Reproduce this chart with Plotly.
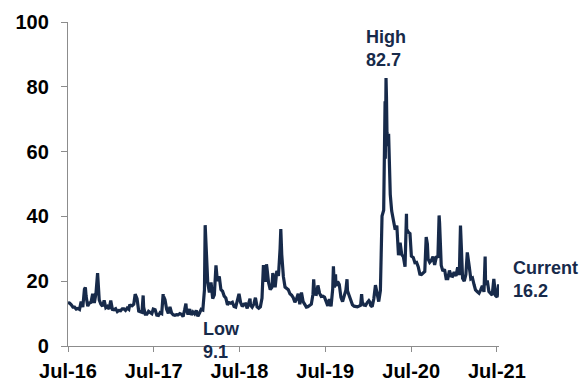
import plotly.graph_objects as go

dates = [
"2016-07-01","2016-07-08","2016-07-15","2016-07-22","2016-07-29","2016-08-05","2016-08-12","2016-08-19","2016-08-26",
"2016-09-02","2016-09-09","2016-09-13","2016-09-16","2016-09-23","2016-09-30","2016-10-07","2016-10-14","2016-10-21",
"2016-10-28","2016-11-04","2016-11-11","2016-11-18","2016-11-25","2016-12-02","2016-12-09","2016-12-16","2016-12-23",
"2016-12-30",
"2017-01-06","2017-01-13","2017-01-20","2017-01-27","2017-02-03","2017-02-10","2017-02-17","2017-02-24","2017-03-03",
"2017-03-10","2017-03-17","2017-03-21","2017-03-24","2017-03-31","2017-04-07","2017-04-13","2017-04-21","2017-04-28",
"2017-05-05","2017-05-12","2017-05-17","2017-05-19","2017-05-26","2017-06-02","2017-06-09","2017-06-16","2017-06-23",
"2017-06-29","2017-07-07","2017-07-14","2017-07-21","2017-07-28","2017-08-04","2017-08-10","2017-08-11","2017-08-18",
"2017-08-25","2017-09-01","2017-09-08","2017-09-15","2017-09-22","2017-09-29","2017-10-06","2017-10-13","2017-10-20",
"2017-10-27","2017-11-03","2017-11-10","2017-11-15","2017-11-17","2017-11-24","2017-12-01","2017-12-08","2017-12-15",
"2017-12-22","2017-12-29",
"2018-01-05","2018-01-12","2018-01-19","2018-01-26","2018-02-02","2018-02-05","2018-02-09","2018-02-16","2018-02-23",
"2018-03-02","2018-03-09","2018-03-16","2018-03-23","2018-03-29","2018-04-06","2018-04-13","2018-04-20","2018-04-27",
"2018-05-04","2018-05-11","2018-05-18","2018-05-25","2018-06-01","2018-06-08","2018-06-15","2018-06-22","2018-06-29",
"2018-07-06","2018-07-13","2018-07-20","2018-07-27","2018-08-03","2018-08-10","2018-08-15","2018-08-17","2018-08-24",
"2018-08-31","2018-09-07","2018-09-14","2018-09-21","2018-09-28","2018-10-05","2018-10-11","2018-10-12","2018-10-19",
"2018-10-24","2018-10-26","2018-11-02","2018-11-09","2018-11-16","2018-11-20","2018-11-23","2018-11-30","2018-12-07",
"2018-12-14","2018-12-21","2018-12-24","2018-12-28",
"2019-01-04","2019-01-11","2019-01-18","2019-01-25","2019-02-01","2019-02-08","2019-02-15","2019-02-22","2019-03-01",
"2019-03-08","2019-03-15","2019-03-22","2019-03-29","2019-04-05","2019-04-12","2019-04-18","2019-04-26","2019-05-03",
"2019-05-10","2019-05-13","2019-05-17","2019-05-24","2019-05-31","2019-06-07","2019-06-14","2019-06-21","2019-06-28",
"2019-07-05","2019-07-12","2019-07-19","2019-07-26","2019-08-02","2019-08-05","2019-08-09","2019-08-14","2019-08-16",
"2019-08-23","2019-08-30","2019-09-06","2019-09-13","2019-09-20","2019-09-27","2019-10-02","2019-10-04","2019-10-11",
"2019-10-18","2019-10-25","2019-11-01","2019-11-08","2019-11-15","2019-11-22","2019-11-29","2019-12-03","2019-12-06",
"2019-12-13","2019-12-20","2019-12-27",
"2020-01-03","2020-01-08","2020-01-10","2020-01-17","2020-01-24","2020-01-31","2020-02-07","2020-02-14","2020-02-21",
"2020-02-24","2020-02-27","2020-02-28","2020-03-06","2020-03-09","2020-03-12","2020-03-13","2020-03-16","2020-03-18",
"2020-03-20","2020-03-24","2020-03-27","2020-03-31","2020-04-03","2020-04-09","2020-04-17","2020-04-24","2020-05-01",
"2020-05-08","2020-05-15","2020-05-22","2020-05-29","2020-06-05","2020-06-11","2020-06-12","2020-06-19","2020-06-26",
"2020-07-02","2020-07-10","2020-07-17","2020-07-24","2020-07-31","2020-08-07","2020-08-14","2020-08-21","2020-08-28",
"2020-09-03","2020-09-08","2020-09-11","2020-09-18","2020-09-25","2020-10-02","2020-10-09","2020-10-16","2020-10-23",
"2020-10-28","2020-10-30","2020-11-06","2020-11-13","2020-11-20","2020-11-27","2020-12-04","2020-12-11","2020-12-18",
"2020-12-24","2020-12-31",
"2021-01-08","2021-01-15","2021-01-22","2021-01-27","2021-01-29","2021-02-05","2021-02-12","2021-02-19","2021-02-25",
"2021-02-26","2021-03-05","2021-03-12","2021-03-19","2021-03-26","2021-04-01","2021-04-09","2021-04-16","2021-04-23",
"2021-04-30","2021-05-07","2021-05-12","2021-05-14","2021-05-21","2021-05-28","2021-06-04","2021-06-11","2021-06-18",
"2021-06-25","2021-07-02","2021-07-08","2021-07-09",
]

values = [
13.4,13.2,12.7,12.0,12.0,11.4,11.6,11.3,13.7,
12.0,17.5,18.1,15.4,12.3,13.3,13.5,16.1,13.3,
16.2,22.5,14.2,12.9,12.3,14.1,11.8,12.2,11.4,
14.0,
11.3,11.2,11.5,10.6,11.0,10.9,11.5,11.5,11.0,
11.7,11.3,12.8,12.5,12.4,12.9,16.0,14.6,10.8,
10.6,10.4,15.6,12.0,9.8,9.8,10.7,10.4,10.0,
11.4,11.2,9.5,9.4,10.3,10.0,16.0,15.5,14.3,
11.3,10.1,12.1,10.2,9.6,9.5,9.7,9.6,10.0,
9.8,9.1,11.3,13.1,11.4,9.7,11.4,9.6,10.5,
9.9,11.0,
9.2,10.2,11.3,11.1,17.3,37.3,29.1,19.5,16.5,
19.6,14.6,15.8,24.9,20.0,21.5,17.4,16.9,15.4,
14.8,12.7,13.4,13.2,13.5,12.2,12.0,13.8,16.1,
13.4,12.2,12.9,13.0,11.6,13.2,14.6,12.6,12.0,
12.9,14.9,12.1,11.7,12.1,14.8,25.0,21.3,19.9,
25.2,24.2,19.5,17.4,18.1,22.5,21.5,18.1,23.2,
21.6,30.1,36.1,28.3,
21.4,18.2,17.8,17.4,16.1,15.7,14.9,13.5,14.6,
16.1,12.9,16.5,13.7,12.8,12.0,12.1,12.7,12.9,
16.0,20.6,16.0,15.9,18.7,16.3,15.3,15.4,15.1,
13.3,12.4,14.5,12.2,17.6,24.6,18.0,22.1,18.5,
19.9,19.0,15.0,13.7,15.3,17.2,20.6,17.0,15.6,
14.3,12.7,12.3,12.1,12.1,12.3,12.6,16.0,13.6,
12.6,12.5,13.4,
14.0,13.5,12.6,12.1,14.6,18.8,15.5,13.7,17.1,
25.0,39.2,40.1,41.9,54.5,75.5,57.8,82.7,76.5,
66.0,61.7,65.5,53.5,46.8,41.7,38.2,35.9,37.2,
28.0,31.9,28.2,27.5,24.5,40.8,36.1,35.1,34.7,
27.7,27.3,25.7,25.8,24.5,22.2,22.1,22.5,23.0,
33.6,31.5,26.9,25.8,26.4,27.6,25.0,27.4,27.6,
40.3,38.0,24.9,23.1,23.7,20.8,20.8,23.3,21.6,
21.5,22.8,
21.6,24.3,21.9,37.2,33.1,20.9,20.0,22.1,28.9,
28.0,24.7,20.7,21.0,18.9,17.3,16.7,16.3,17.3,
18.6,16.7,27.6,18.8,20.2,16.8,16.4,15.7,20.7,
15.6,15.1,19.0,16.2,
]

tick_dates = ["2016-07-01","2017-07-01","2018-07-01","2019-07-01","2020-07-01","2021-07-01"]
tick_labels = ["Jul-16","Jul-17","Jul-18","Jul-19","Jul-20","Jul-21"]

NAVY = "#172a4a"
tickfont = dict(family="Liberation Sans, Arial, sans-serif", size=20, color="#000000", weight="bold")
annfont = dict(family="Liberation Sans, Arial, sans-serif", size=18, color=NAVY, weight="bold")

fig = go.Figure()
fig.add_trace(go.Scatter(x=dates, y=values, mode="lines",
                         line=dict(color=NAVY, width=3.2), hoverinfo="skip"))

fig.update_layout(
    width=579, height=382,
    margin=dict(l=60, r=88, t=14, b=44, autoexpand=False),
    paper_bgcolor="white", plot_bgcolor="white",
    showlegend=False,
    xaxis=dict(type="date", range=["2016-07-01", "2021-07-10"], automargin=False,
               tickvals=tick_dates, ticktext=tick_labels,
               showgrid=False, zeroline=False, showline=True,
               linecolor="#8c8c8c", linewidth=1.3,
               ticks="outside", ticklen=5, tickcolor="#8c8c8c", tickwidth=1.3,
               tickfont=tickfont, ticklabelstandoff=2),
    yaxis=dict(range=[0, 100], dtick=20, tick0=0, automargin=False,
               showgrid=False, zeroline=False, showline=True,
               linecolor="#8c8c8c", linewidth=1.3,
               ticks="outside", ticklen=6, tickcolor="#8c8c8c", tickwidth=1.3,
               tickfont=tickfont, ticklabelstandoff=8),
    annotations=[
        dict(x="2020-03-16", y=82.7, text="High<br>82.7", showarrow=False,
             xanchor="center", yanchor="bottom", align="left", yshift=6, font=annfont),
        dict(x="2018-01-20", y=9.0, text="Low<br>9.1", showarrow=False,
             xanchor="left", yanchor="top", align="left", font=annfont),
        dict(x=1.028, xref="paper", y=20.4, text="Current<br>16.2", showarrow=False,
             xanchor="left", yanchor="middle", align="left", font=annfont),
    ],
)

fig.write_html("out.html")
